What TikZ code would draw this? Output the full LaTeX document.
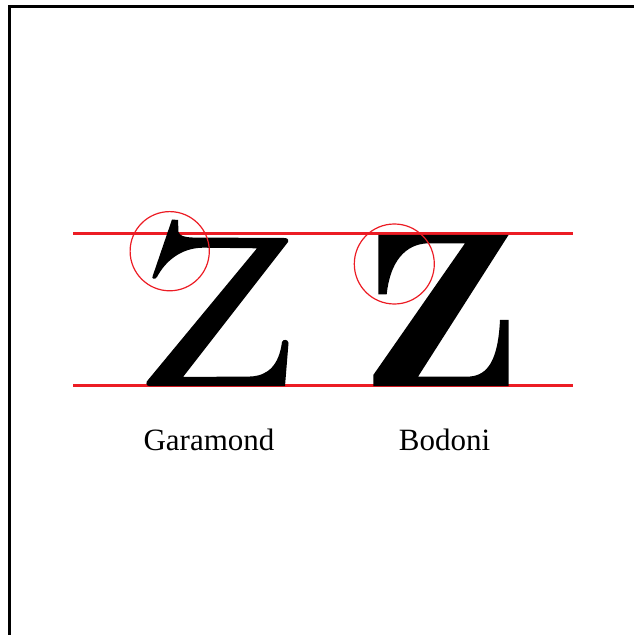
\documentclass[tikz,border=0pt]{standalone}
\usepackage{fontspec}
\setmainfont{Liberation Serif}
\usepackage{tikz}
\usetikzlibrary{positioning,calc}

\definecolor{guidered}{RGB}{236,28,36}

\begin{document}
\begin{tikzpicture}[
  x=0.5pt,y=-0.5pt,
  frameline/.style={draw=black,line width=1.5pt},
  guideline/.style={draw=guidered,line width=1.5pt},
  loupe/.style={draw=guidered,line width=0.6pt},
  glyph/.style={fill=black,draw=none},
  fontlabel/.style={font=\fontsize{15.5}{18}\selectfont,anchor=base,inner sep=0pt},
]
\useasboundingbox (0,0) rectangle (633,635);

% frame
\draw[frameline] (9.8,650) -- (9.8,6.5) -- (650,6.5);

% cap line and base line
\draw[guideline] (73,234) -- (573,234);
\draw[guideline] (73,385) -- (573,385);

% Garamond Z
\fill[glyph] (172,219.5) -- (178,220) -- (178.5,232)
  .. controls (180,236) and (184,237) .. (192,237.5)
  -- (284,238) .. controls (287,238) and (289,239) .. (288,242)
  -- (183,377) -- (250,376.5)
  .. controls (268,376) and (279,365) .. (282,342)
  .. controls (283,339) and (288,339) .. (288.5,343)
  -- (285,386) -- (149,386)
  .. controls (146,386) and (145.5,382) .. (148,380)
  -- (257,248.3) -- (203,247.7)
  .. controls (180,248) and (165,262) .. (157,277)
  .. controls (155,280) and (151,279) .. (152.7,276) -- cycle;

% Bodoni Z
\fill[glyph] (378.3,235) -- (508.5,235) -- (418,376.7) -- (470,376.5)
  .. controls (488,375) and (498,360) .. (500,320)
  -- (508.5,320) -- (508.5,386) -- (373.3,386) -- (373.3,375)
  -- (465,243.3) -- (428,243.3)
  .. controls (405,244) and (390,262) .. (386.7,294.3)
  -- (378.3,294.3) -- cycle;

% terminals
\draw[loupe] (169.7,251.2) circle[radius=39.6];
\draw[loupe] (394.3,264) circle[radius=40];

% labels
\node[fontlabel] (garamond) at (209,450) {Garamond};
\node[fontlabel] (bodoni) at (444.5,450) {Bodoni};

\end{tikzpicture}
\end{document}
